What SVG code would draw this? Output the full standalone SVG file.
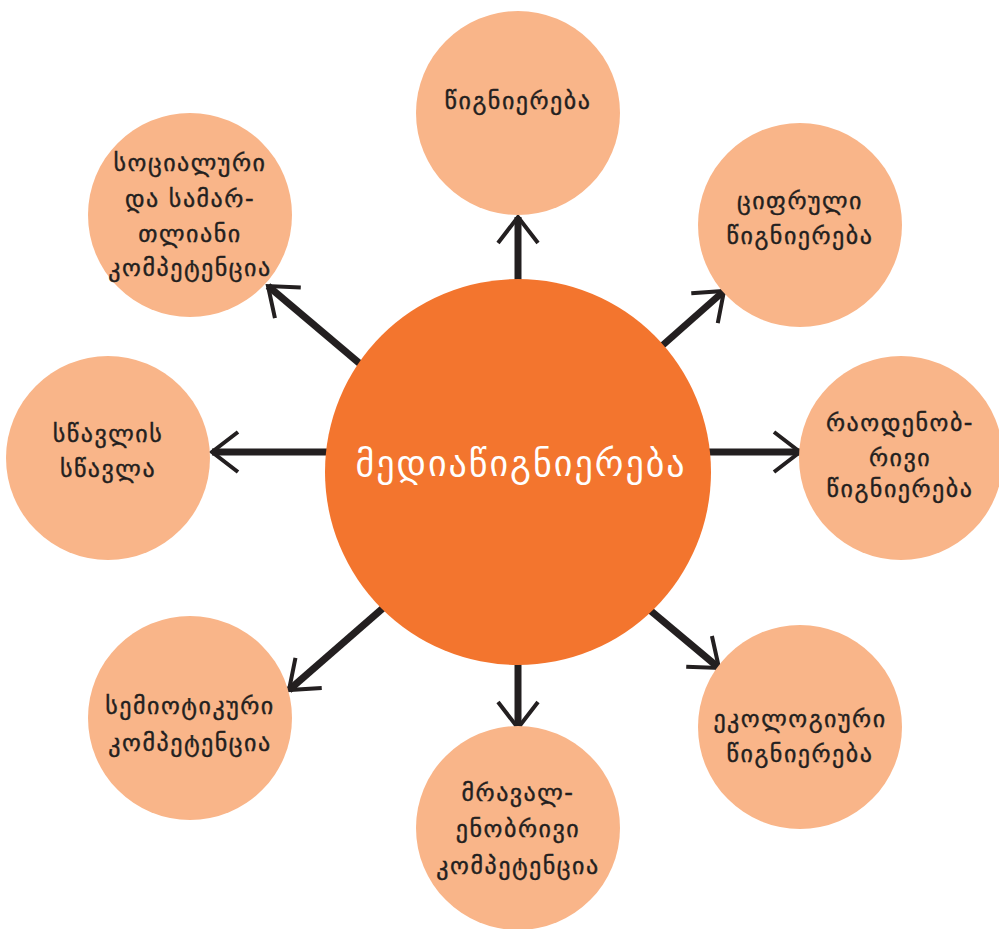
<svg xmlns="http://www.w3.org/2000/svg" width="999" height="929" viewBox="0 0 999 929">
<style>
.node{fill:#f9b589}
.hub{fill:#f3752e}
.t{font-family:"DejaVu Sans","Noto Sans",sans-serif;font-size:24px;fill:#231f20;stroke:#231f20;stroke-width:0.4;text-anchor:middle;letter-spacing:1.5px}
.ht{font-family:"DejaVu Sans","Noto Sans",sans-serif;font-size:36px;fill:#ffffff;text-anchor:middle;letter-spacing:2px}
.c{stroke:#231f20;stroke-width:7;fill:none;marker-end:url(#ah)}
</style>
<defs>
<marker id="ah" markerUnits="userSpaceOnUse" markerWidth="40" markerHeight="50" viewBox="-32 -25 40 50" refX="0" refY="0" orient="auto">
<path d="M -26 -20 L 0 0 L -26 20" fill="none" stroke="#231f20" stroke-width="4"/>
</marker>
</defs>
<g id="connectors">
<line class="c" x1="518" y1="290" x2="518" y2="217"/>
<line class="c" x1="655" y1="352" x2="724" y2="291"/>
<line class="c" x1="700" y1="452" x2="800" y2="452"/>
<line class="c" x1="645" y1="606" x2="719" y2="668"/>
<line class="c" x1="518" y1="655" x2="518" y2="728"/>
<line class="c" x1="390" y1="602" x2="289" y2="690"/>
<line class="c" x1="335" y1="452" x2="212" y2="452"/>
<line class="c" x1="365" y1="368" x2="268" y2="286"/>
</g>
<g id="hub">
<circle class="hub" cx="518" cy="472" r="193"/>
<text class="ht" x="521" y="476">მედიაწიგნიერება</text>
</g>
<g id="n-top">
<circle class="node" cx="518" cy="113" r="102"/>
<text class="t" x="518" y="109">წიგნიერება</text>
</g>
<g id="n-upper-right">
<circle class="node" cx="800" cy="225" r="102"/>
<text class="t" x="800" y="209">ციფრული</text>
<text class="t" x="800" y="244">წიგნიერება</text>
</g>
<g id="n-right">
<circle class="node" cx="901" cy="458" r="102"/>
<text class="t" x="900" y="431">რაოდენობ-</text>
<text class="t" x="900" y="466">რივი</text>
<text class="t" x="900" y="497">წიგნიერება</text>
</g>
<g id="n-lower-right">
<circle class="node" cx="800" cy="727" r="102"/>
<text class="t" x="800" y="727">ეკოლოგიური</text>
<text class="t" x="800" y="762">წიგნიერება</text>
</g>
<g id="n-bottom">
<circle class="node" cx="518" cy="828" r="102"/>
<text class="t" x="518" y="801">მრავალ-</text>
<text class="t" x="518" y="837">ენობრივი</text>
<text class="t" x="518" y="874">კომპეტენცია</text>
</g>
<g id="n-lower-left">
<circle class="node" cx="190" cy="718" r="102"/>
<text class="t" x="190" y="714">სემიოტიკური</text>
<text class="t" x="190" y="751">კომპეტენცია</text>
</g>
<g id="n-left">
<circle class="node" cx="108" cy="458" r="102"/>
<text class="t" x="108" y="442">სწავლის</text>
<text class="t" x="108" y="477">სწავლა</text>
</g>
<g id="n-upper-left">
<circle class="node" cx="190" cy="215" r="102"/>
<text class="t" x="190" y="171">სოციალური</text>
<text class="t" x="190" y="207">და სამარ-</text>
<text class="t" x="190" y="242">თლიანი</text>
<text class="t" x="190" y="276">კომპეტენცია</text>
</g>
</svg>
